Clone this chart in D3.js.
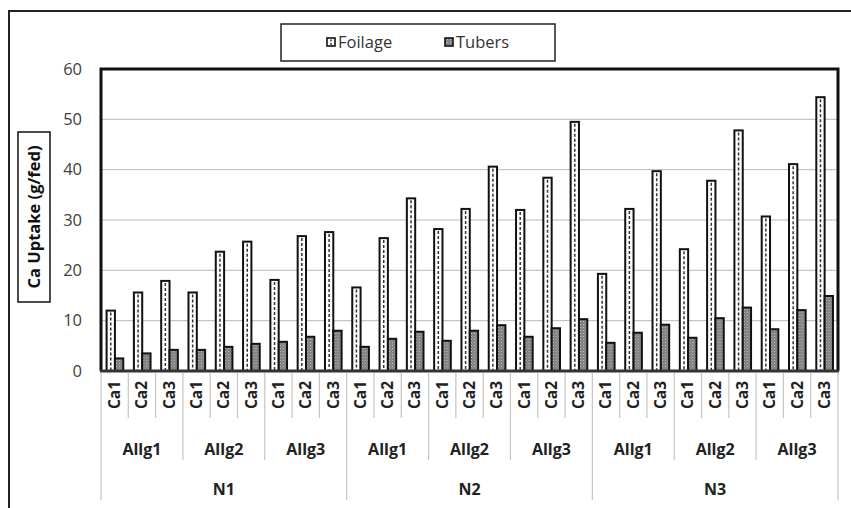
<!DOCTYPE html>
<html><head><meta charset="utf-8">
<script src="https://cdn.jsdelivr.net/npm/d3@7"></script>
<style>
body{margin:0;background:#fff;}
svg{display:block;font-family:"Open Sans",sans-serif;}
</style></head>
<body><svg id="c" width="851" height="508"></svg>
<script>
const nLevels = ["N1","N2","N3"];
const allgLevels = ["Allg1","Allg2","Allg3"];
const caLevels = ["Ca1","Ca2","Ca3"];
const seriesNames = ["Foilage","Tubers"];
// order: N1(Allg1 Ca1..Ca3, Allg2..., Allg3...), N2..., N3...
const foilage = [12.0,15.6,17.9, 15.6,23.7,25.7, 18.1,26.8,27.6,
                 16.6,26.4,34.3, 28.2,32.2,40.6, 32.0,38.4,49.5,
                 19.3,32.2,39.7, 24.2,37.8,47.8, 30.7,41.1,54.4];
const tubers  = [2.5,3.5,4.2, 4.2,4.8,5.4, 5.8,6.8,8.0,
                 4.8,6.4,7.8, 6.0,8.0,9.1, 6.8,8.5,10.3,
                 5.6,7.6,9.2, 6.6,10.5,12.6, 8.3,12.1,14.9];
const yTicks = [0,10,20,30,40,50,60];
const yTitle = "Ca Uptake (g/fed)";

const svg = d3.select("#c");
const L=101, R=838, T=69, B=371;

const cats = [];
nLevels.forEach(n=>allgLevels.forEach(a=>caLevels.forEach(c=>cats.push({n,a,c,key:n+a+c}))));
cats.forEach((d,i)=>{d.foilage=foilage[i];d.tubers=tubers[i];});

const x0 = d3.scaleBand().domain(cats.map(d=>d.key)).range([L,R]).padding(0);
const w = x0.bandwidth();
const x1 = d3.scaleBand().domain(seriesNames).range([w*0.205, w*0.815]).padding(0);
const y = d3.scaleLinear().domain([0,60]).range([B,T]);

// defs
const defs = svg.append("defs");
const pt = defs.append("pattern").attr("id","tub").attr("patternUnits","userSpaceOnUse").attr("width",3).attr("height",3);
pt.append("rect").attr("width",3).attr("height",3).attr("fill","#7d7d7d");
pt.append("rect").attr("x",0).attr("y",0).attr("width",1).attr("height",1).attr("fill","#c8c8c8");
pt.append("rect").attr("x",1.5).attr("y",1.5).attr("width",1).attr("height",1).attr("fill","#a8a8a8");

// outer frame (top and left)
svg.append("path").attr("d",`M9,508 L9,11 L851,11`).attr("fill","none").attr("stroke","#222").attr("stroke-width",2);

// legend
const lg = svg.append("g");
lg.append("rect").attr("x",281).attr("y",24).attr("width",274).attr("height",37).attr("fill","#fff").attr("stroke","#222").attr("stroke-width",1.5);
const lgItems = [{name:"Foilage",x:327},{name:"Tubers",x:445}];
lgItems.forEach(it=>{
  if(it.name==="Foilage"){
    lg.append("rect").attr("x",it.x).attr("y",38).attr("width",8).attr("height",8).attr("fill","#fff").attr("stroke","#111").attr("stroke-width",1.6);
    lg.append("line").attr("x1",it.x+4).attr("x2",it.x+4).attr("y1",39.5).attr("y2",45).attr("stroke","#111").attr("stroke-width",1.2).attr("stroke-dasharray","2,1.5");
  } else {
    lg.append("rect").attr("x",it.x).attr("y",38).attr("width",8).attr("height",8).attr("fill","url(#tub)").attr("stroke","#111").attr("stroke-width",1.6);
  }
  lg.append("text").attr("x",it.x+11).attr("y",48).attr("font-size",16.5).attr("fill","#333").text(it.name);
});

// gridlines
svg.append("g").selectAll("line").data(yTicks.filter(t=>t>0&&t<60)).join("line")
  .attr("x1",L).attr("x2",R).attr("y1",d=>y(d)).attr("y2",d=>y(d)).attr("stroke","#b8b8b8").attr("stroke-width",1);

// y axis labels
const yAxis = d3.axisLeft(y).tickValues(yTicks).tickSize(0).tickPadding(19);
const ya = svg.append("g").attr("transform",`translate(${L},0)`).call(yAxis);
ya.select(".domain").remove();
ya.selectAll("text").attr("font-size",16.5).attr("fill","#404040").attr("font-family","Open Sans, sans-serif");

// y title with box
svg.append("rect").attr("x",18).attr("y",132).attr("width",32).attr("height",170).attr("fill","#fff").attr("stroke","#111").attr("stroke-width",1.5);
svg.append("text").attr("transform","translate(40,217) rotate(-90)").attr("text-anchor","middle")
  .attr("font-size",16.5).attr("font-weight","bold").attr("fill","#111").text(yTitle);

// bars
const g = svg.append("g");
const catG = g.selectAll("g.cat").data(cats).join("g").attr("class","cat").attr("transform",d=>`translate(${x0(d.key)},0)`);
catG.append("rect").attr("x",x1("Foilage")).attr("width",x1.bandwidth()).attr("y",d=>y(d.foilage)).attr("height",d=>B-y(d.foilage))
  .attr("fill","#fff").attr("stroke","#111").attr("stroke-width",2);
catG.append("line").attr("x1",x1("Foilage")+x1.bandwidth()/2).attr("x2",x1("Foilage")+x1.bandwidth()/2)
  .attr("y1",d=>y(d.foilage)+2).attr("y2",B).attr("stroke","#333").attr("stroke-width",1.5).attr("stroke-dasharray","3,2");
catG.append("rect").attr("x",x1("Tubers")).attr("width",x1.bandwidth()).attr("y",d=>y(d.tubers)).attr("height",d=>B-y(d.tubers))
  .attr("fill","url(#tub)").attr("stroke","#111").attr("stroke-width",2);

// plot border
svg.append("path").attr("d",`M${L},${B} L${L},${T} L${R},${T} L${R},${B}`).attr("fill","none").attr("stroke","#111").attr("stroke-width",3);
svg.append("line").attr("x1",L-1).attr("x2",R+1).attr("y1",B).attr("y2",B).attr("stroke","#333").attr("stroke-width",3);

// x axis multi-level
const xa = svg.append("g");
const bounds = d3.range(cats.length+1);
xa.selectAll("line.sep").data(bounds).join("line").attr("class","sep")
  .attr("x1",i=>L+i*w).attr("x2",i=>L+i*w).attr("y1",B+2)
  .attr("y2",i=> (i%9===0)?500:((i%3===0)?460:418))
  .attr("stroke","#c4c4c4").attr("stroke-width",1.2);
// Ca labels
xa.selectAll("text.ca").data(cats).join("text").attr("class","ca")
  .attr("transform",d=>`translate(${x0(d.key)+w/2+5.5},${395}) rotate(-90)`)
  .attr("text-anchor","middle").attr("font-size",15.5).attr("font-weight","bold").attr("fill","#222").text(d=>d.c);
// Allg labels
const allgGroups = [];
nLevels.forEach((n,ni)=>allgLevels.forEach((a,ai)=>allgGroups.push({label:a,idx:ni*3+ai})));
xa.selectAll("text.al").data(allgGroups).join("text").attr("class","al")
  .attr("x",d=>L+(d.idx*3+1.5)*w).attr("y",455).attr("text-anchor","middle")
  .attr("font-size",16).attr("font-weight","bold").attr("fill","#222").text(d=>d.label);
// N labels
xa.selectAll("text.n").data(nLevels).join("text").attr("class","n")
  .attr("x",(d,i)=>L+(i*9+4.5)*w).attr("y",495).attr("text-anchor","middle")
  .attr("font-size",16).attr("font-weight","bold").attr("fill","#222").text(d=>d);
</script></body></html>
